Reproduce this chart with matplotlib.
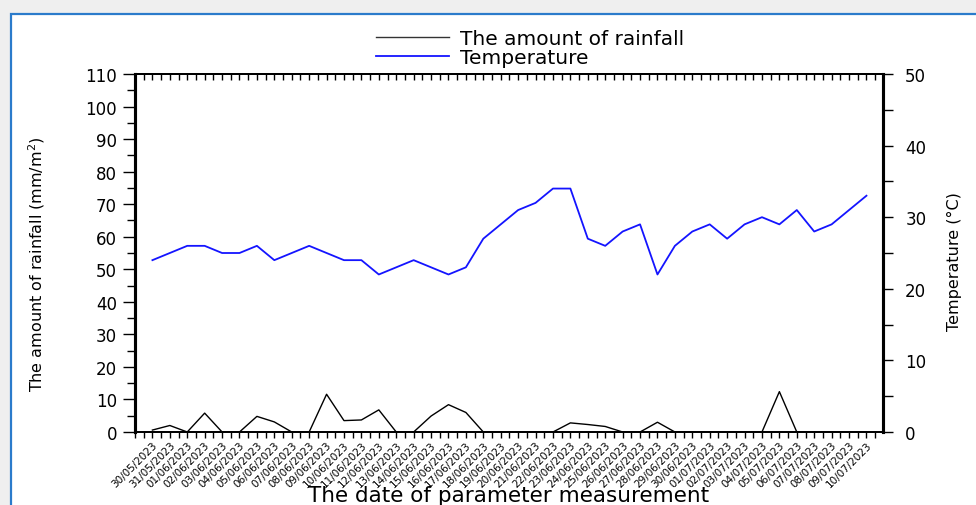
import matplotlib
matplotlib.use("Agg")
import matplotlib.pyplot as plt
from matplotlib.patches import Rectangle
from matplotlib.lines import Line2D
from matplotlib.ticker import MultipleLocator, NullFormatter
import pandas as pd

# Daily measurements, 30/05/2023 - 10/07/2023
dates = pd.date_range("2023-05-30", "2023-07-10", freq="D")
date_labels = [d.strftime("%d/%m/%Y") for d in dates]

rainfall = [0.6, 2.0, 0, 5.8, 0, 0, 4.8, 3.1, 0, 0,
            11.6, 3.5, 3.7, 6.8, 0, 0, 4.9, 8.4, 6.0, 0,
            0, 0, 0, 0, 2.8, 2.3, 1.7, 0, 0, 3.0,
            0, 0, 0, 0, 0, 0, 12.4, 0, 0, 0, 0, 0]

temperature = [24, 25, 26, 26, 25, 25, 26, 24, 25, 26,
               25, 24, 24, 22, 23, 24, 23, 22, 23, 27,
               29, 31, 32, 34, 34, 27, 26, 28, 29, 22,
               26, 28, 29, 27, 29, 30, 29, 31, 28, 29, 31, 33]

plt.rcParams["font.family"] = ["DejaVu Sans"]

W, H = 976, 506
fig = plt.figure(figsize=(W / 100, H / 100), dpi=100, facecolor="#efefef")

# white panel with blue frame, kept behind the axes
fig.patches.append(Rectangle((11 / W, -0.05), 1.1, (H - 15) / H + 0.05,
                             transform=fig.transFigure, facecolor="white",
                             edgecolor="#2b7bcb", linewidth=1.6, zorder=-5))

ax = fig.add_axes([135 / W, 1 - 433 / H, (883 - 135) / W, (433 - 75) / H])
ax.set_facecolor("none")
ax2 = ax.twinx()
ax2.set_facecolor("none")

x = list(range(len(dates)))
ax.plot(x, rainfall, color="black", lw=1.0)
ax2.plot(x, temperature, color="#1414ff", lw=1.3)

ax.set_xlim(-1, 41.95)
ax.set_ylim(0, 110)
ax2.set_ylim(0, 50)

ax.yaxis.set_major_locator(MultipleLocator(10))
ax.yaxis.set_minor_locator(MultipleLocator(5))
ax2.yaxis.set_major_locator(MultipleLocator(10))
ax2.yaxis.set_minor_locator(MultipleLocator(5))

ax.set_xticks(x)
ax.set_xticklabels(date_labels, rotation=45, ha="right", rotation_mode="anchor",
                   fontsize=7.5)
ax.xaxis.set_minor_locator(MultipleLocator(0.5))
ax.tick_params(axis="x", which="both", direction="out", length=4, width=1.0,
               pad=1.5)

# inward ticks along the top edge
top = ax.secondary_xaxis("top")
top.set_xticks(x)
top.xaxis.set_minor_locator(MultipleLocator(0.5))
top.xaxis.set_major_formatter(NullFormatter())
top.tick_params(axis="x", which="both", direction="in", length=4, width=1.0)
top.spines["top"].set_linewidth(1.3)

ax.tick_params(axis="y", which="major", direction="out", length=9, width=1.0,
               labelsize=12, pad=4)
ax.tick_params(axis="y", which="minor", direction="out", length=5.5, width=1.0)
ax2.tick_params(axis="y", which="major", direction="out", length=7, width=1.0,
                labelsize=12, pad=9)
ax2.tick_params(axis="y", which="minor", direction="out", length=7, width=1.0)

for a in (ax, ax2):
    a.spines["left"].set_linewidth(2.2)
    a.spines["right"].set_linewidth(2.2)
    a.spines["top"].set_linewidth(1.3)
    a.spines["bottom"].set_linewidth(1.3)

ax.set_ylabel("The amount of rainfall (mm/m$^2$)", fontsize=11.5)
ax.yaxis.set_label_coords(-0.117, 0.472)
ax2.set_ylabel("Temperature (°C)", fontsize=11.5)
ax2.yaxis.set_label_coords(1.086, 0.478)

ax.set_xlabel("The date of parameter measurement", fontsize=15.5)
ax.xaxis.set_label_coords(0.5, -0.148)

handles = [Line2D([], [], color="#333333", lw=1.0),
           Line2D([], [], color="#1414ff", lw=1.3)]
fig.legend(handles, ["The amount of rainfall", "Temperature"],
           loc="center", bbox_to_anchor=(530 / W, 1 - 49 / H), frameon=False,
           fontsize=14.5, handlelength=3.6, handletextpad=0.55,
           labelspacing=0.0, borderpad=0)

fig.savefig("out.png", dpi=100, facecolor=fig.get_facecolor())
